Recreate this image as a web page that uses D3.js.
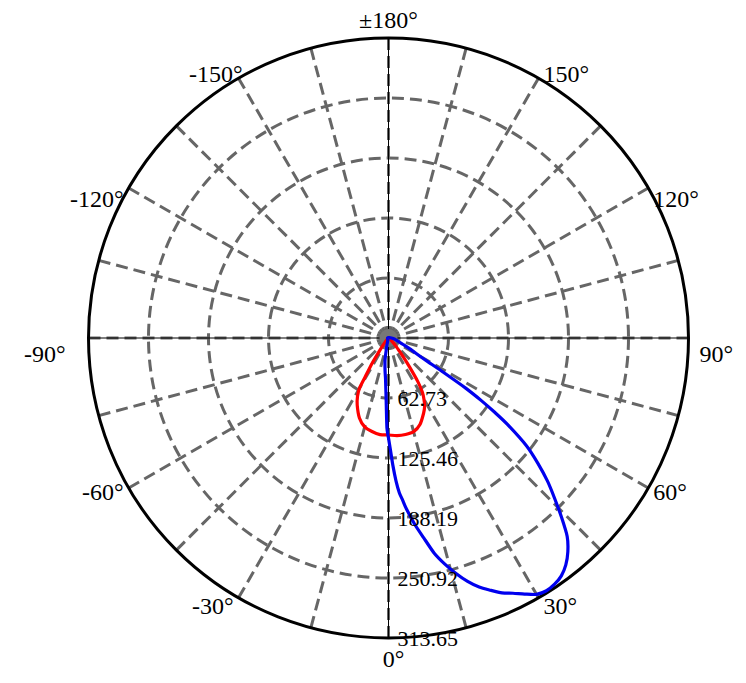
<!DOCTYPE html>
<html>
<head>
<meta charset="utf-8">
<script src="https://cdn.jsdelivr.net/npm/d3@7/dist/d3.min.js"></script>
<style>
  html, body { margin: 0; padding: 0; background: #fff; }
  svg { display: block; }
  text { font-family: "Liberation Serif", "Times New Roman", serif; fill: #000; }
</style>
</head>
<body>
<svg id="chart" width="746" height="683"></svg>
<script>
// ---- data ----
const radialTicks = [62.73, 125.46, 188.19, 250.92, 313.65];
const radialTickLabels = ["62.73", "125.46", "188.19", "250.92", "313.65"];
const angleTicks = [0, 30, 60, 90, 120, 150, 180, -150, -120, -90, -60, -30];
const angleTickLabels = ["0°", "30°", "60°", "90°", "120°", "150°", "±180°", "-150°", "-120°", "-90°", "-60°", "-30°"];
const spokeStep = 15;

const redAngles = [-180, -90, -60, -45, -40, -37, -35, -33, -31, -30, -28, -25, -20, -15, -10, -5, 0, 5, 10, 15, 20, 25, 28, 30, 32, 34, 36, 38, 40, 43, 47, 55, 60, 90];
const redValues = [0.5, 0.5, 1.0, 2.1, 5.2, 10.5, 16.7, 31.4, 47.0, 60.6, 69.0, 77.4, 88.9, 96.2, 99.3, 101.4, 101.4, 102.5, 102.5, 101.4, 96.2, 86.8, 80.5, 74.2, 66.9, 54.4, 37.6, 25.1, 16.7, 10.5, 5.2, 2.1, 1.0, 0.5];

const blueAngles = [-180, -90, -30, -15, -12, -9, -6, -4, -2, -1, 0, 1, 2, 3, 4, 5, 6, 8, 10, 12, 14, 16, 18, 20, 22, 24, 26, 28, 30, 32, 34, 36, 38, 40, 42, 44, 46, 48, 50, 52, 54, 55, 56, 57, 58, 59, 60, 63, 66, 70, 75, 80, 90, 120];
const blueValues = [0.5, 1.0, 1.6, 3.1, 8.4, 23.0, 34.5, 43.9, 68.0, 94.1, 104.6, 117.1, 133.8, 149.5, 162.1, 170.4, 179.8, 196.6, 212.2, 230.0, 243.6, 256.1, 267.6, 277.1, 284.4, 291.7, 296.9, 303.2, 309.5, 311.6, 310.5, 307.4, 301.1, 291.7, 279.2, 260.3, 241.5, 223.7, 203.9, 183.0, 153.7, 135.9, 117.1, 96.2, 68.0, 47.0, 37.6, 25.1, 16.7, 11.5, 8.4, 6.3, 3.1, 1.0];

// ---- layout ----
const svg = d3.select("#chart");
const cx = 388.5, cy = 338, R = 300;
const rScale = d3.scaleLinear().domain([0, 313.65]).range([0, R]);
const toRad = d => d * Math.PI / 180;
// 0° at bottom, positive angles to the right
const pt = (deg, r) => [cx + r * Math.sin(toRad(deg)), cy + r * Math.cos(toRad(deg))];

const g = svg.append("g");
const gridColor = "#666666";

// rings
g.selectAll("circle.ring").data(radialTicks.slice(0, -1)).enter().append("circle")
  .attr("cx", cx).attr("cy", cy).attr("r", d => rScale(d))
  .attr("fill", "none").attr("stroke", gridColor).attr("stroke-width", 3)
  .attr("stroke-dasharray", "12,6");

// spokes
const spokes = d3.range(0, 360, spokeStep);
g.selectAll("line.spoke").data(spokes).enter().append("line")
  .attr("x1", cx).attr("y1", cy)
  .attr("x2", d => pt(d, R)[0]).attr("y2", d => pt(d, R)[1])
  .attr("stroke", gridColor).attr("stroke-width", 3)
  .attr("stroke-dasharray", "12,6");

// thin black axes
g.append("line").attr("x1", cx - R).attr("x2", cx + R).attr("y1", cy).attr("y2", cy)
  .attr("stroke", "#000").attr("stroke-width", 1);
g.append("line").attr("x1", cx).attr("x2", cx).attr("y1", cy - R).attr("y2", cy + R)
  .attr("stroke", "#000").attr("stroke-width", 1);

// outer circle
g.append("circle").attr("cx", cx).attr("cy", cy).attr("r", R)
  .attr("fill", "none").attr("stroke", "#000").attr("stroke-width", 3);

// centre disc
g.append("circle").attr("cx", cx).attr("cy", cy).attr("r", 9).attr("fill", "#777");

// curves
const radial = d3.lineRadial()
  .angle(d => Math.PI - toRad(d[0]))
  .radius(d => rScale(d[1]))
  .curve(d3.curveCardinalClosed.tension(0.3));

const curveG = g.append("g").attr("transform", `translate(${cx},${cy})`);
curveG.append("path").datum(redAngles.map((a, i) => [a, redValues[i]]))
  .attr("d", radial).attr("fill", "none").attr("stroke", "#ff0000").attr("stroke-width", 3.2);
curveG.append("path").datum(blueAngles.map((a, i) => [a, blueValues[i]]))
  .attr("d", radial).attr("fill", "none").attr("stroke", "#0000ee").attr("stroke-width", 3.2);

// radial labels
g.selectAll("text.rlab").data(radialTicks).enter().append("text")
  .attr("x", cx + 9).attr("y", d => cy + rScale(d))
  .attr("dominant-baseline", "central")
  .style("font-size", "22px")
  .text((d, i) => radialTickLabels[i]);

// angle labels
function labelLayout(deg) {
  const s = Math.sin(toRad(deg));
  const p = pt(deg, R);
  const a = Math.abs(deg);
  if (Math.abs(s) < 0.01) {
    return deg === 0 ? { x: p[0] + 5, y: p[1] + 29, anchor: "middle" }
                     : { x: p[0], y: p[1] - 10, anchor: "middle" };
  }
  const sign = s > 0 ? 1 : -1;
  const dyMap = { 30: 16, 60: 12, 90: 24, 120: 19, 150: 4 };
  let gap = 5;
  if (a === 90) gap = sign > 0 ? 11 : 23;
  if (deg === -150) gap = -4;
  return { x: p[0] + sign * gap, y: p[1] + dyMap[a], anchor: sign > 0 ? "start" : "end" };
}
g.selectAll("text.alab").data(angleTicks).enter().append("text")
  .each(function(d, i) {
    const L = labelLayout(d);
    d3.select(this).attr("x", L.x).attr("y", L.y).attr("text-anchor", L.anchor)
      .style("font-size", "24px").text(angleTickLabels[i]);
  });
</script>
</body>
</html>
